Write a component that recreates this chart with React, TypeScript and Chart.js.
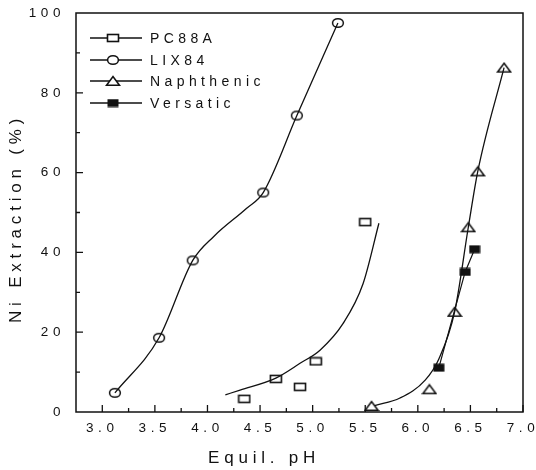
import React, { useEffect, useRef } from "react";
import { Chart, registerables } from "chart.js";

Chart.register(...registerables);

const FONT = "'Liberation Sans', Arial, Helvetica, sans-serif";
const INK = "#111111";

// PC88A measured points and fitted curve
const pc88aPh = [4.35, 4.65, 4.88, 5.03, 5.5];
const pc88aExt = [3.3, 8.3, 6.3, 12.7, 47.6];
const pc88aFitPh = [4.17, 4.31, 4.65, 4.88, 5.07, 5.29, 5.48, 5.63];
const pc88aFitExt = [4.3, 5.5, 8.5, 12.2, 15.5, 22.2, 32.2, 47.3];

// LIX84 measured points and the smooth curve through them
const lix84Ph = [3.12, 3.54, 3.86, 4.53, 4.85, 5.24];
const lix84Ext = [4.8, 18.6, 38.0, 55.0, 74.3, 97.5];
const lix84FitPh = [3.12, 3.54, 3.86, 4.06, 4.37, 4.53, 4.85, 5.24];
const lix84FitExt = [4.8, 18.6, 38.0, 44.0, 51.0, 55.0, 74.3, 97.5];

// Naphthenic measured points and fitted curve
const naphPh = [5.56, 6.11, 6.35, 6.48, 6.57, 6.82];
const naphExt = [1.5, 5.7, 25.1, 46.3, 60.3, 86.3];
const naphFitPh = [5.59, 5.83, 6.07, 6.2, 6.35, 6.48, 6.57, 6.82];
const naphFitExt = [1.6, 3.5, 8.0, 13.3, 25.1, 46.3, 60.3, 86.3];

// Versatic measured points
const versPh = [6.2, 6.45, 6.54];
const versExt = [11.1, 35.1, 40.8];

// Axis ticks
const xLabelTicks = [3.0, 3.5, 4.0, 4.5, 5.0, 5.5, 6.0, 6.5, 7.0];
const xMinorTicks = [3.25, 3.75, 4.25, 4.75, 5.25, 5.75, 6.25, 6.75];
const yMajorTicks = [20, 40, 60, 80];
const yMinorTicks = [10, 30, 50, 70, 90];

const legendLabels = ["PC88A", "LIX84", "Naphthenic", "Versatic"];
const legendMarkers = ["openSquare", "openCircle", "openTriangle", "filledSquare"];

const xTitle = "Equil. pH";
const yTitle = "Ni Extraction (%)";

function zip(xs: number[], ys: number[]) {
  return xs.map((x, i) => ({ x, y: ys[i] }));
}

function makeMarker(kind: string): HTMLCanvasElement {
  const c = document.createElement("canvas");
  const ctx = c.getContext("2d")!;
  if (kind === "openSquare") {
    c.width = 14;
    c.height = 10;
    ctx.fillStyle = "#fff";
    ctx.strokeStyle = INK;
    ctx.lineWidth = 1.6;
    ctx.fillRect(1.5, 1.5, 11, 7);
    ctx.strokeRect(1.5, 1.5, 11, 7);
  } else if (kind === "openCircle") {
    c.width = 14;
    c.height = 12;
    ctx.fillStyle = "#fff";
    ctx.strokeStyle = INK;
    ctx.lineWidth = 1.5;
    ctx.beginPath();
    ctx.ellipse(7, 6, 5.4, 4.3, 0, 0, Math.PI * 2);
    ctx.fill();
    ctx.stroke();
  } else if (kind === "openTriangle") {
    c.width = 16;
    c.height = 12;
    ctx.fillStyle = "#fff";
    ctx.strokeStyle = INK;
    ctx.lineWidth = 1.6;
    ctx.lineJoin = "miter";
    ctx.beginPath();
    ctx.moveTo(1.5, 10.3);
    ctx.lineTo(14.5, 10.3);
    ctx.lineTo(8, 1.6);
    ctx.closePath();
    ctx.fill();
    ctx.stroke();
  } else {
    c.width = 12;
    c.height = 9;
    ctx.fillStyle = INK;
    ctx.fillRect(0.5, 0.5, 11, 8);
  }
  return c;
}

export default function App() {
  const canvasRef = useRef<HTMLCanvasElement | null>(null);

  useEffect(() => {
    const canvas = canvasRef.current;
    if (!canvas) return;
    const markers: Record<string, HTMLCanvasElement> = {};
    legendMarkers.forEach((k) => (markers[k] = makeMarker(k)));

    const framePlugin = {
      id: "frameAndText",
      beforeDraw(chart: any) {
        chart.ctx.letterSpacing = "4.6px";
      },
      afterDraw(chart: any) {
        const { ctx, chartArea } = chart;
        const xs = chart.scales.x;
        const ys = chart.scales.y;
        const { left, right, top, bottom } = chartArea;
        ctx.save();
        ctx.strokeStyle = INK;
        ctx.lineWidth = 1.5;
        ctx.strokeRect(left, top, right - left, bottom - top);

        // inward tick marks
        ctx.lineWidth = 1.3;
        ctx.beginPath();
        xLabelTicks.forEach((v) => {
          const px = xs.getPixelForValue(v);
          ctx.moveTo(px, bottom);
          ctx.lineTo(px, bottom - 7);
        });
        xMinorTicks.forEach((v) => {
          const px = xs.getPixelForValue(v);
          ctx.moveTo(px, bottom);
          ctx.lineTo(px, bottom - 4);
        });
        yMajorTicks.forEach((v) => {
          const py = ys.getPixelForValue(v);
          ctx.moveTo(left, py);
          ctx.lineTo(left + 7, py);
        });
        yMinorTicks.forEach((v) => {
          const py = ys.getPixelForValue(v);
          ctx.moveTo(left, py);
          ctx.lineTo(left + 4, py);
        });
        ctx.stroke();

        // legend
        ctx.fillStyle = INK;
        ctx.font = `14px ${FONT}`;
        ctx.letterSpacing = "4.4px";
        ctx.textBaseline = "middle";
        ctx.textAlign = "left";
        const rowY = [38, 60, 81, 103];
        legendLabels.forEach((label, i) => {
          const y = rowY[i];
          ctx.lineWidth = 1.4;
          ctx.beginPath();
          ctx.moveTo(90, y);
          ctx.lineTo(142, y);
          ctx.stroke();
          const m = markers[legendMarkers[i]];
          ctx.drawImage(m, 113 - m.width / 2, y - m.height / 2);
          ctx.fillText(label, 150, y + 1);
        });

        // axis titles
        ctx.font = `17px ${FONT}`;
        ctx.letterSpacing = "4.8px";
        ctx.textBaseline = "middle";
        ctx.textAlign = "left";
        ctx.fillText(xTitle, 208, 458);
        ctx.translate(16, 323);
        ctx.rotate(-Math.PI / 2);
        ctx.fillText(yTitle, 0, 0);
        ctx.restore();
      },
    };

    const curve = (label: string, xs: number[], ys: number[]) => ({
      label,
      data: zip(xs, ys),
      showLine: true,
      pointRadius: 0,
      borderColor: INK,
      borderWidth: 1.3,
      cubicInterpolationMode: "monotone",
    });

    const chart = new Chart(canvas, {
      type: "scatter",
      data: {
        datasets: [
          curve("PC88A fit", pc88aFitPh, pc88aFitExt),
          {
            label: "PC88A",
            data: zip(pc88aPh, pc88aExt),
            showLine: false,
            pointStyle: markers.openSquare,
            pointRadius: 6,
          },
          curve("LIX84 fit", lix84FitPh, lix84FitExt),
          {
            label: "LIX84",
            data: zip(lix84Ph, lix84Ext),
            showLine: false,
            pointStyle: markers.openCircle,
            pointRadius: 6,
          },
          curve("Naphthenic fit", naphFitPh, naphFitExt),
          {
            label: "Versatic",
            data: zip(versPh, versExt),
            showLine: true,
            borderColor: INK,
            borderWidth: 1.2,
            tension: 0,
            pointStyle: markers.filledSquare,
            pointRadius: 6,
          },
          {
            label: "Naphthenic",
            data: zip(naphPh, naphExt),
            showLine: false,
            pointStyle: markers.openTriangle,
            pointRadius: 6,
          },
        ],
      },
      options: {
        responsive: false,
        animation: false,
        devicePixelRatio: 1,
        layout: { padding: { top: 13, right: 13, left: 0, bottom: 0 } },
        plugins: {
          legend: { display: false },
          tooltip: { enabled: false },
        },
        scales: {
          x: {
            type: "linear",
            min: 2.75,
            max: 7.0,
            grid: { display: false, drawTicks: false },
            border: { display: false },
            afterBuildTicks: (scale: any) => {
              scale.ticks = xLabelTicks.map((v) => ({ value: v }));
            },
            afterFit: (scale: any) => {
              scale.height = 58;
              scale.paddingLeft = 0;
              scale.paddingRight = 0;
            },
            ticks: {
              color: INK,
              padding: 8,
              maxRotation: 0,
              autoSkip: false,
              font: { family: FONT, size: 13.5 },
              callback: (v: any) => Number(v).toFixed(1),
            },
          },
          y: {
            type: "linear",
            min: 0,
            max: 100,
            grid: { display: false, drawTicks: false },
            border: { display: false },
            afterFit: (scale: any) => {
              scale.width = 76;
              scale.paddingTop = 0;
              scale.paddingBottom = 0;
            },
            ticks: {
              color: INK,
              padding: 11,
              stepSize: 20,
              font: { family: FONT, size: 13.5 },
            },
          },
        },
      },
      plugins: [framePlugin],
    } as any);

    return () => chart.destroy();
  }, []);

  return (
    <canvas
      ref={canvasRef}
      width={536}
      height={470}
      style={{ position: "absolute", left: 0, top: 0, width: 536, height: 470, background: "#fff" }}
    />
  );
}
